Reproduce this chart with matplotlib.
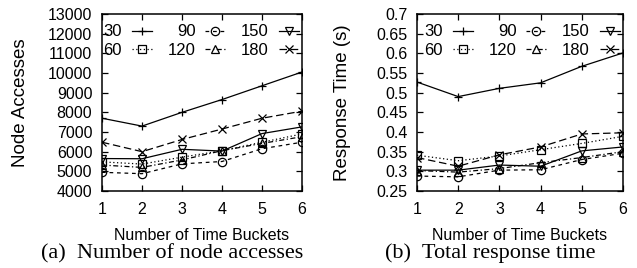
import matplotlib
matplotlib.use("Agg")
import matplotlib.pyplot as plt

buckets = [1, 2, 3, 4, 5, 6]
labels = ["30", "60", "90", "120", "150", "180"]

# node accesses
na_30 = [7700, 7300, 8000, 8650, 9350, 10050]
na_60 = [5480, 5370, 5720, 6050, 6480, 6900]
na_90 = [4950, 4880, 5380, 5500, 6150, 6480]
na_120 = [5320, 5200, 5580, 6050, 6420, 6760]
na_150 = [5650, 5640, 6120, 6030, 6920, 7260]
na_180 = [6480, 6000, 6620, 7150, 7700, 8060]

# response time (s)
rt_30 = [0.527, 0.490, 0.511, 0.525, 0.567, 0.601]
rt_60 = [0.341, 0.327, 0.339, 0.355, 0.371, 0.389]
rt_90 = [0.288, 0.286, 0.303, 0.304, 0.330, 0.346]
rt_120 = [0.302, 0.298, 0.307, 0.322, 0.335, 0.350]
rt_150 = [0.303, 0.303, 0.316, 0.313, 0.352, 0.362]
rt_180 = [0.335, 0.313, 0.342, 0.362, 0.395, 0.398]

markers = ["+", "s", "o", "^", "v", "x"]
dashes = [(None, None), (1, 2), (3, 3), (4, 2, 1, 2), (None, None), (6, 3)]

plt.rcParams["font.family"] = "Liberation Sans"

fig = plt.figure(figsize=(6.37, 2.68), dpi=100)
ax1 = fig.add_axes([102/637, 1-191/268, 200/637, 177/268])
ax2 = fig.add_axes([417/637, 1-191/268, 206/637, 177/268])


def draw(ax, series, ylim, yticks, ylabel, ticklabels, ylab_x):
    for s, lab, m, d in zip(series, labels, markers, dashes):
        ln, = ax.plot(buckets, s, color="black", lw=0.9, marker=m, ms=6,
                      mfc="none", mec="black", mew=0.9, label=lab)
        if d[0] is not None:
            ln.set_dashes(d)
    ax.set_xlim(1, 6)
    ax.set_ylim(*ylim)
    ax.set_xticks(buckets)
    ax.set_yticks(yticks)
    ax.set_yticklabels(ticklabels)
    ax.tick_params(direction="in", length=4, width=0.9, top=True, right=True,
                   labelsize=11.5)
    ax.tick_params(axis="y", pad=7)
    ax.tick_params(axis="x", pad=8)
    for sp in ax.spines.values():
        sp.set_linewidth(1.1)
    ax.set_xlabel("Number of Time Buckets", fontsize=11.5, labelpad=8)
    ax.set_ylabel(ylabel, fontsize=13.5)
    ax.yaxis.set_label_coords(ylab_x, 0.5)
    ax.legend(ncol=3, loc="upper right", bbox_to_anchor=(1.0, 0.96),
              markerfirst=False, frameon=False, fontsize=12,
              handlelength=1.2, handletextpad=0.6, columnspacing=0.93,
              labelspacing=0.23, borderaxespad=0.0, borderpad=0.2)


yt1 = list(range(4000, 13001, 1000))
draw(ax1, [na_30, na_60, na_90, na_120, na_150, na_180], (4000, 13000),
     yt1, "Node Accesses", [str(v) for v in yt1], -0.365)
yt2 = [0.25, 0.3, 0.35, 0.4, 0.45, 0.5, 0.55, 0.6, 0.65, 0.7]
draw(ax2, [rt_30, rt_60, rt_90, rt_120, rt_150, rt_180], (0.25, 0.7),
     yt2, "Response Time (s)", [("%g" % v) for v in yt2], -0.32)

fig.text(172/637, 1-258/268, "(a)  Number of node accesses", ha="center",
         va="baseline", fontsize=16, family="Liberation Serif")
fig.text(490/637, 1-258/268, "(b)  Total response time", ha="center",
         va="baseline", fontsize=16, family="Liberation Serif")

fig.savefig("out.png", dpi=100)
